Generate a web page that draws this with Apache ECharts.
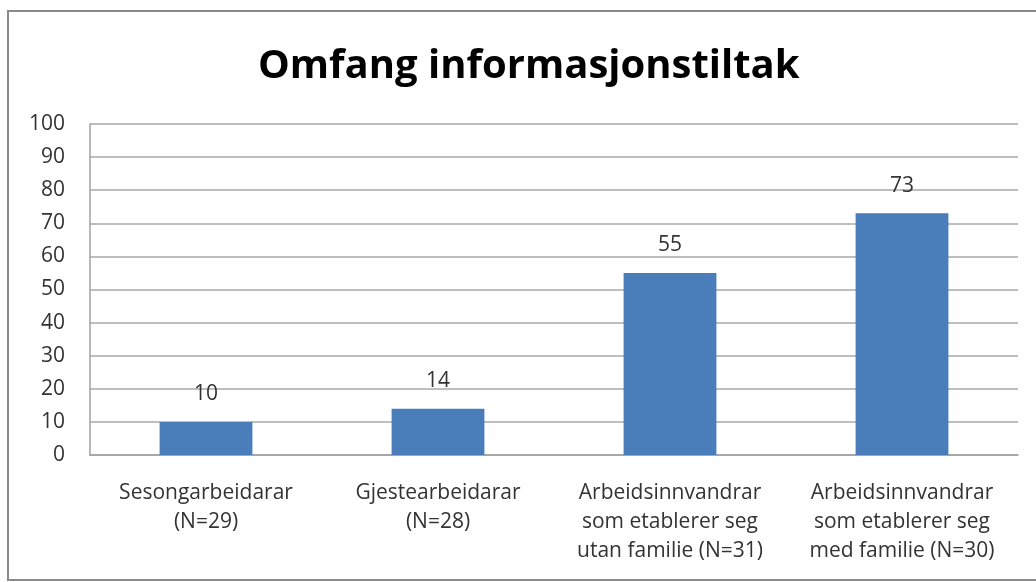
<!DOCTYPE html>
<html>
<head>
<meta charset="utf-8">
<script src="https://cdn.jsdelivr.net/npm/echarts@6/dist/echarts.min.js"></script>
<style>
  html, body { margin: 0; padding: 0; background: #fff; }
  #chart { width: 1036px; height: 582px; }
</style>
</head>
<body>
<div id="chart"></div>
<script>
const categories = [
  'Sesongarbeidarar\n(N=29)',
  'Gjestearbeidarar\n(N=28)',
  'Arbeidsinnvandrar\nsom etablerer seg\nutan familie (N=31)',
  'Arbeidsinnvandrar\nsom etablerer seg\nmed familie (N=30)'
]
const values = [10, 14, 55, 73]
const yTicks = [0, 10, 20, 30, 40, 50, 60, 70, 80, 90, 100]

const font = '"Open Sans", "Liberation Sans", sans-serif'
const chart = echarts.init(document.getElementById('chart'))

chart.setOption({
  animation: false,
  textStyle: { fontFamily: font },
  title: {
    text: 'Omfang informasjonstiltak',
    left: 253,
    top: 42,
    textStyle: { fontSize: 40, fontWeight: 'bold', color: '#000', fontFamily: font }
  },
  graphic: [{
    type: 'rect',
    shape: { x: 8, y: 11, width: 1040, height: 569 },
    style: { fill: 'none', stroke: '#8a8a8a', lineWidth: 2 },
    silent: true
  }],
  grid: { left: 90, right: 18, top: 124, bottom: 127 },
  xAxis: {
    type: 'category',
    data: categories,
    axisTick: { show: false },
    axisLine: { lineStyle: { color: '#a0a0a0', width: 1.5 } },
    axisLabel: { color: '#333', fontSize: 21, lineHeight: 29, margin: 24, interval: 0 }
  },
  yAxis: {
    type: 'value',
    min: yTicks[0],
    max: yTicks[yTicks.length - 1],
    interval: 10,
    axisLine: { show: true, lineStyle: { color: '#a0a0a0', width: 1.5 } },
    axisTick: { show: false },
    splitLine: { lineStyle: { color: '#a8a8a8', width: 1.5 } },
    axisLabel: { color: '#333', fontSize: 21, margin: 25 }
  },
  series: [{
    type: 'bar',
    data: values,
    barWidth: '40%',
    itemStyle: { color: '#4a7ebb' },
    label: { show: true, position: 'top', distance: 17, color: '#333', fontSize: 21 }
  }]
})
</script>
</body>
</html>
